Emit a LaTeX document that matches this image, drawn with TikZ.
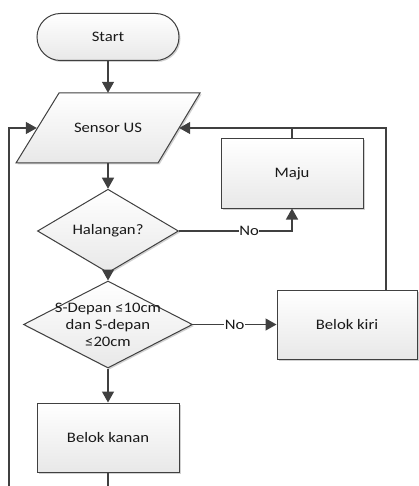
\documentclass[tikz,border=0pt]{standalone}
\usepackage{fontspec}
\setmainfont{Carlito}[FakeStretch=1.15]
\usetikzlibrary{shapes.geometric,arrows.meta,shadows}
\definecolor{strk}{HTML}{404040}
\tikzset{
  skin/.style={draw=strk, line width=1pt, top color=white, bottom color=black!9,
    drop shadow={shadow xshift=1.5pt, shadow yshift=-1.5pt, fill=black, opacity=0.18}},
  txt/.style={inner sep=0pt, text=black!90, font=\fontsize{14.5}{17}\selectfont, align=center},
  base/.style={skin, txt},
  term/.style={base, rectangle, rounded corners=23.5pt, minimum width=142pt, minimum height=47pt},
  iotext/.style={txt, minimum width=142pt, minimum height=70pt},
  proc/.style={base, rectangle, minimum width=142pt, minimum height=69pt},
  dec/.style={base, diamond},
  conn/.style={draw=strk, line width=1.3pt},
  arr/.style={conn, -{Triangle[length=11pt,width=12pt]}},
  lbl/.style={fill=white, inner sep=0.5pt, text=black!90, font=\fontsize{14.5}{17}\selectfont}
}
\begin{document}
\begin{tikzpicture}[x=1pt,y=-1pt]
\useasboundingbox[fill=white] (0,0) rectangle (418,486);
\node[term] (start) at (108,37) {Start};
\draw[skin] (59,93) -- (200,93) -- (158,163) -- (16,163) -- cycle;
\node[iotext] (sensor) at (108,128) {Sensor US};
\node[dec, minimum width=141pt, minimum height=68pt] (hal) at (108,231) {Halangan?};
\node[proc] (maju) at (292,173.5) {Maju};
\node[dec, minimum width=169pt, minimum height=87pt,
  label={[txt]center:S-Depan ≤10cm\\dan S-depan\\≤20cm}] (sd) at (108,324.5) {};
\node[proc, minimum width=140pt] (kiri) at (347,324.5) {Belok kiri};
\node[proc] (kanan) at (108,437.5) {Belok kanan};
\coordinate (b1) at (108,487);
\coordinate (b2) at (9,487);

\draw[arr] (start) -- (sensor);
\draw[arr] (sensor) -- (hal);
\draw[arr] (hal) -- (sd);
\draw[arr] (sd) -- (kanan);
\draw[arr] (hal.east) -- node[lbl, pos=0.62] {No} (hal.east -| maju.south) -- (maju.south);
\draw[arr] (sd.east) -- node[lbl] {No} (kiri.west);
\draw[arr] ([xshift=39pt]kiri.north) |- (sensor.east);
\draw[conn] (maju.north) -- (maju.north |- sensor.east);
\draw[conn] (kanan.south) -- (b1);
\draw[arr] (b2) |- (sensor.west);
\end{tikzpicture}
\end{document}
